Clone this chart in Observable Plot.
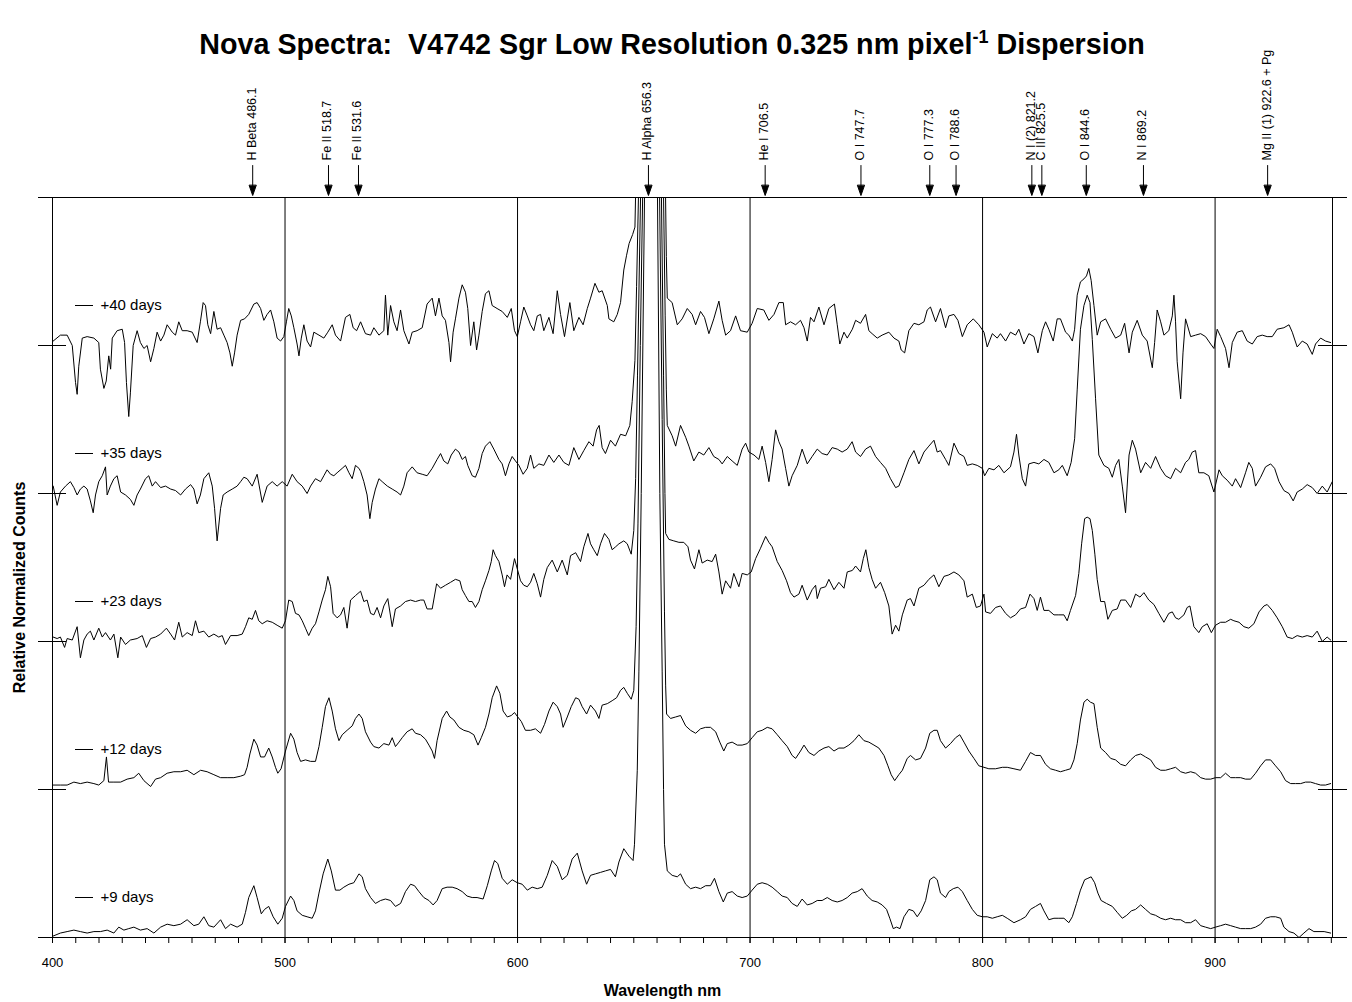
<!DOCTYPE html>
<html><head><meta charset="utf-8">
<script src="https://cdn.jsdelivr.net/npm/d3@7"></script>
<script src="https://cdn.jsdelivr.net/npm/@observablehq/plot@0.6"></script>
<style>
body{margin:0;background:#fff;font-family:Arial,"Liberation Sans",sans-serif}
#wrap{position:relative;width:1352px;height:1002px}
#title{position:absolute;top:28px;left:0;width:1344px;text-align:center;font-weight:bold;font-size:28.7px;color:#000;z-index:2;pointer-events:none;white-space:nowrap}
#title sup{font-size:18px;line-height:0}
#chart{position:absolute;top:0;left:0}
</style></head><body>
<div id="wrap"><div id="title">Nova Spectra:&nbsp; V4742 Sgr Low Resolution 0.325 nm pixel<sup>-1</sup> Dispersion</div><div id="chart"></div></div>
<script>
// Series labels and vertical offsets
const seriesNames = ["+9 days", "+12 days", "+23 days", "+35 days", "+40 days"];
const seriesOffsets = [0, 1, 2, 3, 4];

// [wavelength nm, relative counts above each spectrum's baseline]
const day40 = [[400.3,0.03],[403.4,0.07],[406.3,0.07],[408.5,0],[409.9,-0.25],[410.6,-0.33],[411.3,-0.14],[412.8,0.05],[414.9,0.06],[417.8,0.05],[419.9,0.02],[420.6,-0.16],[422.1,-0.29],[423.1,-0.24],[424.2,-0.07],[425.0,-0.16],[425.7,0.05],[427.8,0.10],[430.0,0.11],[431.0,0.02],[431.8,-0.25],[432.8,-0.48],[433.5,-0.32],[434.7,0],[436.4,0.10],[437.8,0.02],[439.3,-0.02],[440.7,0],[442.2,-0.11],[443.6,-0.02],[445.0,0.09],[446.5,0.03],[447.9,0.07],[449.3,0.14],[451.5,0.09],[452.9,0.07],[454.3,0.16],[455.8,0.10],[457.9,0.10],[460.1,0.09],[462.2,0.02],[463.6,0.16],[464.8,0.29],[465.8,0.27],[466.8,0.14],[468.0,0.08],[469.4,0.23],[470.8,0.11],[472.3,0.12],[473.7,0.07],[475.1,0.02],[476.3,-0.05],[477.3,-0.14],[478.3,-0.05],[479.4,0.07],[480.9,0.17],[482.6,0.18],[484.4,0.21],[486.6,0.28],[488.0,0.29],[489.5,0.25],[490.9,0.17],[492.3,0.21],[493.8,0.24],[495.2,0.16],[496.6,0.05],[498.1,0.03],[499.5,0.06],[500.6,0.16],[501.6,0.25],[502.7,0.20],[503.8,0.12],[505.2,0.01],[506.0,-0.07],[507.0,0.05],[508.1,0.14],[509.5,0.03],[511.0,-0.01],[512.4,0.09],[514.6,0.07],[516.7,0.05],[518.4,0.09],[520.3,0.14],[521.7,0.07],[523.9,0.03],[526.0,0.19],[527.9,0.21],[529.3,0.12],[530.8,0.10],[532.5,0.16],[534.6,0.08],[536.8,0.07],[538.2,0.12],[540.4,0.07],[542.5,0.10],[543.2,0.34],[544.2,0.07],[545.4,0.27],[546.8,0.16],[548.2,0.10],[549.7,0.24],[551.1,0.10],[553.3,0.01],[554.7,0.09],[556.8,0.10],[559.0,0.12],[561.1,0.28],[563.3,0.32],[564.7,0.20],[566.2,0.32],[567.6,0.20],[569.0,0.17],[570.5,0.02],[571.2,-0.11],[572.3,0.09],[573.3,0.18],[574.8,0.32],[576.2,0.41],[577.6,0.36],[578.6,0.25],[579.8,0],[581.2,0.16],[582.4,-0.03],[583.4,0.07],[584.8,0.23],[586.2,0.35],[587.7,0.37],[589.1,0.27],[591.2,0.25],[593.4,0.23],[595.6,0.19],[597.3,0.25],[598.7,0.10],[599.9,0.06],[601.3,0.16],[602.7,0.26],[604.2,0.20],[605.6,0.14],[607.0,0.10],[608.5,0.20],[609.9,0.21],[611.3,0.10],[613.5,0.19],[615.3,0.08],[617.1,0.37],[618.5,0.21],[620.2,0.06],[622.5,0.29],[624.2,0.10],[626.4,0.19],[628.2,0.14],[630.0,0.25],[631.4,0.32],[633.3,0.42],[635.0,0.36],[636.4,0.37],[638.6,0.27],[639.3,0.18],[641.4,0.16],[642.9,0.21],[644.3,0.29],[645.7,0.51],[646.9,0.61],[648.0,0.69],[649.5,0.75],[650.5,0.8],[651.0,1.2],[652.5,3],[656.5,5],[661,3],[663.5,1.2],[664.0,0.6],[664.4,0.32],[666.5,0.29],[668.7,0.14],[670.8,0.18],[673.0,0.25],[675.1,0.21],[676.6,0.14],[678.7,0.23],[680.4,0.19],[682.3,0.08],[684.4,0.18],[686.6,0.30],[688.0,0.17],[689.5,0.07],[691.6,0.10],[693.8,0.20],[695.9,0.10],[698.8,0.09],[700.9,0.15],[703.1,0.25],[705.9,0.24],[708.1,0.17],[710.3,0.21],[712.4,0.29],[714.3,0.29],[715.3,0.14],[717.4,0.16],[719.6,0.14],[721.7,0.17],[723.2,0.12],[724.6,0.03],[726.0,0.19],[727.5,0.16],[729.6,0.26],[731.8,0.14],[733.9,0.25],[736.3,0.28],[737.5,0.14],[738.6,0.01],[740.4,0.09],[741.8,0.05],[744.0,0.11],[745.4,0.17],[747.5,0.15],[749.7,0.21],[751.1,0.10],[752.5,0.08],[754.7,0.05],[756.8,0.07],[759.7,0.09],[761.9,0.05],[764.0,0.03],[765.0,-0.03],[766.5,-0.05],[768.3,0.10],[770.5,0.15],[772.6,0.14],[774.8,0.16],[776.2,0.24],[777.6,0.26],[779.8,0.16],[781.9,0.25],[784.1,0.12],[785.5,0.20],[787.7,0.21],[789.4,0.17],[791.3,0.06],[793.4,0.14],[796.0,0.18],[798.4,0.14],[800.6,0.09],[802.0,-0.01],[804.2,0.08],[806.3,0.05],[807.7,0.08],[809.9,0.03],[812.0,0.09],[814.2,0.07],[815.6,0.11],[817.8,0.01],[819.9,0.08],[822.1,0.06],[823.8,-0.05],[825.7,0.10],[827.1,0.16],[828.5,0.11],[830.4,0.03],[832.1,0.18],[833.5,0.18],[835.7,0.09],[837.1,0.07],[838.6,0.03],[839.6,0.11],[840.7,0.34],[842.1,0.43],[843.6,0.45],[844.7,0.47],[845.7,0.52],[846.7,0.44],[847.9,0.27],[849.3,0.07],[850.8,0.16],[852.9,0.18],[855.1,0.11],[857.2,0.05],[859.4,0.07],[861.1,0.15],[863.0,-0.05],[864.4,0.09],[866.5,0.17],[868.7,0.07],[870.8,0.03],[873.0,-0.15],[874.0,0.02],[875.1,0.24],[876.6,0.16],[878.0,0.07],[880.1,0.10],[881.6,0.20],[882.3,0.34],[883.0,0.16],[883.7,-0.11],[885.2,-0.36],[886.2,-0.05],[887.3,0.18],[889.5,0.06],[891.6,0.07],[893.8,0.08],[895.9,0.06],[898.1,0.01],[899.5,-0.02],[900.9,0.11],[902.4,0.06],[904.5,-0.02],[906.0,-0.15],[907.4,0.02],[909.5,0.09],[911.7,0.10],[913.8,0.03],[916.0,0.01],[918.1,0.06],[920.3,0.07],[922.4,0.06],[924.6,0.06],[926.7,0.11],[929.6,0.12],[931.8,0.14],[933.2,0.09],[935.3,-0.01],[937.5,0.03],[939.6,0.01],[941.8,-0.06],[943.2,0.01],[945.4,0.05],[947.5,0.03],[949.7,0.02]];

const day35 = [[400.3,0.05],[402.0,-0.08],[403.4,0.01],[405.6,0.05],[407.7,0.08],[409.2,0.04],[410.6,-0.01],[412.0,0.03],[413.5,0.05],[414.9,0.03],[416.3,-0.05],[417.5,-0.13],[418.5,-0.01],[419.9,0.08],[421.4,0.12],[422.8,0.18],[423.5,-0.01],[424.9,0.05],[426.4,0.10],[427.8,0.12],[429.3,0.01],[431.4,-0.01],[433.5,-0.04],[435.0,-0.08],[436.4,-0.01],[437.8,0.03],[440.0,0.10],[441.4,0.12],[442.9,0.05],[444.3,0.08],[446.5,0.04],[448.6,0.05],[450.8,0.03],[452.9,0.02],[455.1,-0.01],[457.2,0.03],[459.4,0.06],[460.8,0.03],[462.2,-0.07],[463.6,-0.01],[465.1,0.10],[467.2,0.14],[468.7,0.05],[469.7,-0.10],[470.8,-0.32],[472.3,-0.10],[473.4,-0.01],[475.1,0.01],[477.3,0.03],[479.4,0.05],[480.9,0.08],[482.3,0.11],[483.7,0.10],[485.9,0.05],[488.0,0.13],[490.2,-0.06],[492.3,0.05],[494.5,0.08],[496.6,0.05],[498.8,0.08],[500.9,0.05],[503.1,0.13],[505.2,0.08],[507.4,0.05],[509.5,0],[511.0,0.05],[513.1,0.10],[515.3,0.08],[516.7,0.12],[518.1,0.16],[519.6,0.13],[521.0,0.12],[522.4,0.14],[524.6,0.17],[526.0,0.19],[527.5,0.14],[528.9,0.10],[530.3,0.19],[531.8,0.17],[532.5,0.15],[533.9,0.08],[535.3,-0.01],[536.5,-0.17],[537.5,-0.06],[538.9,0.03],[540.4,0.10],[541.8,0.08],[544.0,0.05],[546.1,0.03],[548.2,0.01],[549.7,-0.01],[551.1,0.05],[552.5,0.14],[554.7,0.18],[556.8,0.14],[559.0,0.13],[561.1,0.12],[563.3,0.17],[565.4,0.23],[566.9,0.27],[568.3,0.22],[570.0,0.20],[571.5,0.26],[573.3,0.30],[574.8,0.28],[576.2,0.23],[577.6,0.25],[578.6,0.19],[580.5,0.12],[581.9,0.11],[583.4,0.17],[584.8,0.27],[586.2,0.32],[588.1,0.35],[589.8,0.30],[592.0,0.23],[593.4,0.20],[594.8,0.12],[596.3,0.20],[597.7,0.25],[599.1,0.22],[600.6,0.19],[602.4,0.13],[604.2,0.17],[605.6,0.26],[607.0,0.17],[609.2,0.20],[611.3,0.19],[613.5,0.26],[615.6,0.21],[617.8,0.26],[619.9,0.21],[622.1,0.19],[624.2,0.31],[626.4,0.23],[628.5,0.29],[630.7,0.35],[632.5,0.32],[634.0,0.43],[635.1,0.46],[636.4,0.31],[637.8,0.27],[640.0,0.36],[642.1,0.32],[644.3,0.40],[646.5,0.39],[648.3,0.46],[649.3,0.62],[650.5,0.9],[651.2,1.4],[652.0,2.0],[653,3.5],[656.5,6],[660.5,3.5],[662.8,2.0],[663.5,1.2],[664.0,0.7],[664.4,0.46],[666.5,0.39],[668.0,0.32],[670.1,0.46],[672.3,0.38],[673.7,0.32],[675.8,0.22],[678.0,0.28],[680.1,0.26],[682.3,0.31],[684.4,0.25],[686.6,0.23],[688.0,0.20],[690.2,0.25],[692.3,0.22],[694.5,0.19],[696.6,0.30],[698.1,0.34],[699.5,0.28],[701.7,0.26],[703.8,0.23],[705.2,0.32],[706.7,0.21],[708.1,0.08],[709.5,0.23],[711.0,0.43],[712.4,0.35],[713.8,0.30],[715.3,0.17],[716.7,0.05],[718.1,0.12],[720.3,0.19],[722.4,0.30],[724.6,0.20],[726.7,0.25],[728.9,0.30],[731.0,0.27],[733.2,0.26],[735.3,0.31],[737.5,0.30],[739.6,0.28],[741.8,0.30],[743.9,0.35],[745.4,0.28],[747.5,0.25],[749.7,0.30],[751.8,0.32],[754.0,0.25],[756.1,0.21],[758.3,0.17],[760.4,0.10],[762.6,0.04],[764.0,0.05],[766.2,0.14],[768.3,0.23],[770.5,0.29],[772.6,0.20],[774.8,0.28],[776.9,0.32],[779.1,0.36],[780.5,0.28],[781.9,0.29],[784.1,0.23],[785.5,0.19],[787.7,0.34],[789.8,0.27],[792.0,0.25],[793.4,0.19],[795.6,0.20],[797.7,0.19],[799.9,0.17],[800.9,0.12],[802.7,0.17],[804.9,0.16],[807.0,0.19],[809.2,0.14],[812.0,0.18],[813.5,0.28],[814.6,0.40],[815.6,0.26],[817.1,0.10],[818.5,0.05],[819.9,0.20],[822.1,0.21],[824.2,0.20],[826.4,0.23],[828.5,0.21],[830.7,0.14],[832.8,0.16],[834.3,0.19],[836.4,0.12],[838.1,0.21],[839.6,0.37],[840.7,0.70],[842.1,1.11],[843.6,1.27],[845.0,1.34],[846.2,1.29],[847.2,1.04],[848.6,0.64],[850.0,0.26],[852.2,0.19],[854.3,0.17],[855.8,0.11],[857.2,0.19],[858.6,0.23],[860.1,0.05],[861.5,-0.13],[863.0,0.26],[864.4,0.36],[865.8,0.30],[868.0,0.14],[870.1,0.21],[872.3,0.17],[874.4,0.25],[876.6,0.17],[878.7,0.12],[880.9,0.10],[883.0,0.17],[885.2,0.14],[887.3,0.21],[888.7,0.23],[890.2,0.28],[891.6,0.29],[893.0,0.14],[895.2,0.14],[897.3,0.12],[899.5,0.01],[901.7,0.16],[903.1,0.12],[905.2,0.09],[907.4,0.05],[908.8,0.10],[911.0,0.04],[913.1,0.14],[914.5,0.21],[916.0,0.17],[917.4,0.05],[919.6,0.11],[921.7,0.18],[923.9,0.20],[925.6,0.17],[927.5,0.08],[929.6,0.02],[931.8,0],[933.6,-0.05],[935.3,0.01],[937.5,0.03],[939.6,0.06],[941.8,0.04],[943.9,0],[946.1,0.05],[948.2,0.01],[950.4,0.08]];

const day23 = [[400.3,0.03],[402.0,0.02],[403.4,0.03],[405.2,-0.04],[406.3,0.02],[408.5,0.01],[410.6,0.10],[412.0,-0.11],[413.5,0.01],[414.9,0.05],[416.3,0.07],[417.8,0.01],[419.9,0.09],[421.4,0.03],[422.8,0.06],[424.9,0.01],[426.4,0.05],[428.1,-0.11],[429.3,0.03],[431.4,-0.02],[433.5,0.01],[436.4,0.02],[438.6,0.04],[440.4,-0.04],[442.2,0.02],[444.3,0.03],[446.5,0.05],[449.0,0.09],[450.8,0.05],[452.5,0.01],[454.3,0.13],[455.8,0.03],[457.9,0.06],[460.1,0.04],[461.5,0.14],[462.9,0.06],[465.1,0.07],[467.2,0.03],[469.4,0.05],[471.5,0.03],[473.0,0.04],[474.4,-0.02],[476.6,0.04],[479.4,0.04],[481.6,0.05],[483.0,0.10],[484.4,0.16],[485.9,0.15],[487.3,0.21],[488.7,0.14],[490.2,0.12],[492.3,0.14],[494.5,0.13],[496.6,0.11],[498.8,0.09],[500.2,0.14],[501.6,0.28],[503.1,0.27],[504.5,0.19],[506.0,0.18],[507.4,0.14],[508.8,0.09],[510.2,0.04],[511.7,0.09],[513.1,0.12],[514.6,0.20],[516.0,0.28],[517.4,0.35],[518.4,0.44],[519.6,0.37],[520.7,0.19],[522.4,0.16],[523.9,0.18],[525.3,0.23],[526.7,0.09],[528.2,0.28],[530.3,0.31],[532.5,0.34],[533.9,0.27],[535.3,0.28],[536.8,0.19],[538.2,0.18],[539.6,0.23],[541.1,0.16],[542.5,0.24],[544.2,0.29],[546.1,0.10],[547.5,0.22],[549.7,0.24],[551.8,0.27],[554.0,0.28],[556.1,0.27],[558.3,0.28],[559.7,0.28],[561.1,0.22],[563.3,0.22],[565.2,0.39],[566.9,0.36],[569.0,0.38],[571.2,0.40],[573.3,0.42],[575.2,0.41],[576.2,0.35],[577.6,0.31],[579.1,0.27],[580.5,0.27],[581.9,0.23],[583.4,0.27],[584.8,0.35],[586.2,0.41],[587.7,0.48],[588.7,0.54],[589.5,0.62],[590.5,0.58],[592.0,0.54],[593.4,0.45],[594.4,0.37],[595.5,0.45],[597.0,0.42],[598.7,0.56],[599.9,0.49],[601.3,0.41],[602.7,0.38],[604.2,0.37],[605.6,0.40],[607.0,0.46],[608.5,0.39],[609.9,0.30],[611.3,0.42],[612.8,0.50],[614.9,0.55],[617.1,0.47],[619.2,0.55],[621.4,0.45],[622.8,0.58],[625.0,0.60],[627.1,0.54],[628.5,0.64],[630.3,0.73],[631.4,0.66],[632.8,0.62],[634.3,0.58],[635.7,0.66],[637.4,0.73],[639.3,0.69],[640.7,0.62],[642.2,0.64],[643.6,0.66],[645.7,0.68],[647.2,0.66],[648.9,0.59],[650.0,0.75],[650.8,1.1],[651.6,1.8],[652.9,3],[654,4.5],[657,7],[660.5,4.5],[661.9,3],[662.8,1.8],[663.4,1.0],[663.7,0.73],[665.1,0.69],[667.2,0.68],[669.4,0.67],[671.5,0.67],[673.3,0.64],[674.4,0.55],[676.1,0.49],[678.0,0.62],[679.4,0.53],[681.6,0.55],[683.7,0.54],[685.2,0.59],[686.6,0.47],[688.0,0.32],[689.5,0.41],[691.6,0.36],[693.0,0.46],[695.2,0.37],[696.6,0.46],[698.8,0.45],[700.5,0.47],[702.4,0.56],[704.5,0.63],[706.7,0.71],[708.1,0.67],[709.5,0.64],[711.7,0.54],[713.8,0.48],[715.7,0.41],[717.4,0.33],[718.9,0.30],[721.0,0.32],[722.4,0.38],[724.6,0.28],[726.7,0.35],[728.2,0.38],[728.9,0.29],[730.3,0.36],[732.5,0.37],[733.9,0.42],[736.1,0.35],[738.2,0.40],[740.4,0.36],[741.8,0.47],[744.0,0.48],[745.4,0.51],[747.5,0.47],[748.7,0.56],[749.8,0.62],[751.1,0.50],[752.5,0.42],[754.0,0.36],[756.1,0.40],[757.9,0.33],[759.7,0.24],[761.1,0.05],[762.6,0.11],[764.0,0.07],[765.5,0.18],[767.6,0.28],[769.0,0.29],[770.5,0.24],[772.6,0.36],[774.8,0.38],[776.9,0.42],[779.1,0.45],[781.2,0.37],[783.4,0.44],[785.5,0.45],[787.7,0.47],[789.8,0.45],[792.0,0.41],[793.4,0.30],[795.6,0.32],[797.3,0.23],[799.1,0.24],[800.6,0.32],[801.3,0.20],[803.4,0.19],[805.6,0.23],[807.7,0.24],[809.9,0.19],[812.0,0.16],[814.2,0.18],[816.3,0.22],[818.5,0.23],[820.4,0.32],[822.1,0.29],[823.5,0.21],[824.9,0.30],[826.4,0.21],[828.5,0.21],[830.7,0.18],[832.8,0.18],[835.0,0.18],[836.4,0.14],[837.8,0.21],[840.0,0.31],[841.4,0.46],[842.6,0.66],[843.9,0.83],[845.0,0.84],[846.2,0.83],[847.2,0.75],[848.3,0.59],[849.3,0.42],[850.8,0.27],[852.5,0.27],[853.9,0.15],[855.8,0.21],[857.9,0.22],[859.4,0.28],[861.5,0.28],[863.7,0.23],[865.8,0.32],[867.7,0.30],[869.4,0.33],[871.5,0.28],[873.7,0.25],[875.8,0.19],[878.0,0.13],[880.1,0.19],[881.6,0.20],[883.0,0.16],[884.4,0.15],[886.6,0.18],[888.0,0.23],[889.2,0.24],[890.9,0.10],[893.0,0.06],[894.5,0.10],[896.6,0.12],[898.4,0.06],[900.2,0.11],[902.4,0.13],[904.5,0.13],[906.7,0.15],[908.1,0.14],[910.3,0.13],[912.4,0.10],[914.5,0.09],[916.7,0.12],[918.9,0.20],[921.0,0.24],[922.4,0.25],[924.6,0.21],[926.7,0.16],[928.9,0.10],[931.0,0.03],[933.2,0.02],[935.3,0.04],[937.5,0.03],[939.6,0.04],[941.8,0.03],[943.9,0.07],[946.1,0],[948.2,0.03],[949.7,0.01]];

const day12 = [[400.3,0.03],[403.4,0.03],[406.3,0.03],[409.2,0.05],[412.0,0.04],[414.9,0.05],[417.8,0.04],[419.9,0.03],[422.1,0.06],[423.2,0.22],[424.1,0.05],[426.4,0.05],[429.3,0.05],[432.1,0.07],[435.0,0.08],[437.1,0.11],[439.3,0.06],[442.2,0.02],[444.3,0.07],[446.5,0.08],[449.3,0.11],[452.2,0.12],[455.1,0.12],[457.9,0.13],[460.8,0.10],[463.7,0.13],[466.5,0.12],[469.4,0.10],[472.3,0.08],[475.1,0.08],[478.0,0.08],[480.9,0.09],[482.6,0.10],[483.7,0.15],[484.9,0.24],[486.6,0.34],[488.0,0.30],[489.5,0.22],[491.2,0.22],[493.0,0.28],[494.5,0.22],[495.9,0.15],[496.9,0.11],[498.3,0.14],[500.2,0.26],[502.4,0.38],[503.8,0.34],[505.2,0.25],[506.7,0.19],[508.8,0.20],[511.0,0.19],[513.1,0.19],[514.6,0.29],[516.0,0.42],[517.4,0.56],[518.9,0.62],[520.3,0.53],[521.7,0.41],[523.2,0.33],[524.6,0.37],[526.7,0.40],[528.9,0.43],[530.3,0.48],[531.8,0.51],[533.2,0.48],[534.6,0.39],[536.8,0.32],[538.2,0.29],[540.4,0.28],[542.5,0.31],[544.7,0.30],[546.1,0.35],[547.5,0.29],[549.0,0.32],[550.4,0.35],[552.5,0.39],[554.7,0.41],[556.1,0.38],[558.3,0.37],[560.4,0.34],[561.9,0.30],[563.3,0.26],[564.3,0.21],[565.4,0.33],[567.6,0.48],[569.5,0.53],[570.9,0.49],[572.6,0.47],[574.8,0.42],[576.9,0.40],[579.1,0.39],[581.2,0.37],[583.0,0.30],[584.4,0.35],[586.2,0.42],[587.7,0.51],[589.1,0.62],[591.0,0.70],[592.4,0.65],[593.8,0.53],[595.6,0.49],[597.3,0.50],[598.7,0.52],[600.1,0.49],[601.6,0.46],[603.4,0.40],[605.6,0.40],[607.7,0.41],[609.9,0.38],[611.6,0.44],[613.5,0.53],[615.3,0.59],[617.1,0.56],[618.5,0.51],[619.6,0.42],[621.4,0.49],[623.1,0.56],[625.0,0.62],[626.4,0.61],[627.8,0.56],[629.7,0.51],[631.4,0.57],[633.5,0.53],[635.0,0.48],[636.4,0.57],[638.6,0.58],[640.7,0.60],[642.6,0.62],[644.3,0.67],[645.7,0.69],[647.2,0.65],[648.9,0.61],[650.0,0.67],[651.0,1.1],[651.8,1.8],[652.8,3],[653.8,4],[655,6],[658,7],[660,6],[661.1,4],[662.2,2.5],[663.2,1.2],[663.7,0.7],[664.1,0.51],[665.8,0.48],[668.0,0.49],[670.1,0.50],[672.3,0.43],[674.4,0.40],[676.6,0.38],[678.7,0.41],[680.9,0.42],[683.0,0.42],[685.2,0.39],[687.0,0.32],[688.7,0.26],[690.2,0.31],[692.3,0.32],[694.5,0.30],[696.6,0.30],[698.8,0.31],[700.9,0.35],[703.1,0.39],[705.2,0.40],[707.4,0.42],[709.5,0.41],[711.7,0.37],[713.8,0.33],[716.0,0.29],[718.1,0.23],[719.6,0.21],[721.7,0.26],[723.2,0.30],[725.3,0.25],[727.5,0.23],[729.6,0.26],[731.8,0.28],[733.9,0.29],[736.1,0.26],[738.2,0.28],[740.4,0.28],[742.5,0.30],[744.7,0.33],[746.8,0.37],[749.0,0.33],[751.1,0.32],[753.3,0.30],[755.4,0.28],[757.6,0.23],[759.3,0.16],[760.7,0.10],[762.2,0.06],[764.0,0.10],[765.5,0.13],[767.6,0.21],[769.0,0.23],[771.2,0.20],[773.3,0.21],[775.5,0.28],[777.3,0.38],[779.1,0.40],[780.5,0.40],[781.9,0.33],[784.1,0.28],[786.2,0.31],[788.4,0.35],[790.2,0.37],[792.0,0.32],[794.1,0.26],[796.3,0.21],[798.4,0.16],[800.6,0.15],[802.7,0.14],[805.6,0.14],[808.5,0.15],[810.6,0.15],[813.5,0.14],[816.3,0.13],[818.5,0.19],[820.6,0.25],[822.8,0.23],[824.9,0.23],[827.1,0.17],[829.2,0.14],[831.4,0.13],[833.5,0.12],[835.7,0.13],[837.8,0.14],[839.3,0.20],[840.7,0.31],[842.1,0.47],[843.6,0.59],[845.0,0.61],[846.4,0.59],[847.9,0.58],[849.3,0.42],[850.8,0.28],[852.9,0.25],[855.1,0.21],[857.2,0.20],[859.4,0.17],[861.5,0.16],[863.7,0.20],[865.8,0.23],[868.0,0.24],[870.1,0.22],[872.3,0.20],[874.4,0.15],[876.6,0.13],[878.7,0.13],[880.9,0.14],[883.0,0.15],[885.2,0.12],[887.3,0.11],[889.5,0.12],[891.6,0.11],[893.8,0.08],[895.9,0.07],[898.1,0.07],[900.2,0.08],[902.4,0.08],[904.5,0.11],[906.7,0.08],[908.8,0.08],[911.0,0.08],[913.1,0.07],[915.3,0.07],[917.4,0.11],[919.6,0.16],[921.7,0.20],[923.9,0.20],[926.0,0.16],[928.2,0.12],[930.3,0.06],[932.5,0.04],[934.6,0.04],[936.8,0.04],[938.9,0.05],[941.1,0.05],[943.2,0.04],[945.4,0.03],[947.5,0.03],[949.7,0.04]];

const day9 = [[400.3,0.01],[403.4,0.03],[406.3,0.04],[409.2,0.05],[412.0,0.04],[414.9,0.03],[417.8,0.04],[420.6,0.04],[423.5,0.05],[426.4,0.03],[428.5,0.07],[430.7,0.05],[432.8,0.06],[435.0,0.07],[437.8,0.05],[440.7,0.06],[443.6,0.03],[446.5,0.07],[449.3,0.09],[452.2,0.08],[455.1,0.09],[457.9,0.12],[460.8,0.08],[462.9,0.09],[465.1,0.14],[467.2,0.08],[469.4,0.07],[472.3,0.12],[474.4,0.06],[476.6,0.09],[479.4,0.07],[481.6,0.09],[483.0,0.17],[484.4,0.27],[486.6,0.35],[488.0,0.27],[489.8,0.16],[491.2,0.19],[493.0,0.21],[494.9,0.14],[496.9,0.09],[498.8,0.13],[500.2,0.21],[502.4,0.28],[503.8,0.25],[505.2,0.18],[507.4,0.15],[509.5,0.14],[511.7,0.13],[513.1,0.18],[514.6,0.30],[516.4,0.43],[518.4,0.53],[519.9,0.45],[521.7,0.32],[523.6,0.32],[525.3,0.34],[527.5,0.36],[529.6,0.37],[531.8,0.43],[533.2,0.41],[534.6,0.33],[536.8,0.27],[538.9,0.23],[541.1,0.25],[543.2,0.26],[545.4,0.25],[547.5,0.21],[549.7,0.23],[551.8,0.31],[554.0,0.36],[555.7,0.35],[557.6,0.31],[559.7,0.27],[561.9,0.25],[563.7,0.22],[565.4,0.25],[567.6,0.33],[569.7,0.34],[571.9,0.34],[574.0,0.33],[576.2,0.31],[578.3,0.28],[580.5,0.27],[582.6,0.27],[585.2,0.26],[587.0,0.35],[588.7,0.45],[590.1,0.52],[591.5,0.50],[593.4,0.40],[595.6,0.36],[597.7,0.39],[599.9,0.37],[602.0,0.36],[604.2,0.32],[606.3,0.34],[608.5,0.33],[610.6,0.34],[612.8,0.42],[614.9,0.52],[617.1,0.48],[619.2,0.39],[621.4,0.42],[623.5,0.53],[625.7,0.57],[627.8,0.45],[629.7,0.36],[631.4,0.42],[633.5,0.43],[635.7,0.44],[637.8,0.45],[640.0,0.46],[642.1,0.41],[643.6,0.51],[645.7,0.60],[647.9,0.55],[649.7,0.52],[650.3,0.63],[651.5,1.13],[652.2,1.8],[653.2,3],[654.6,5],[656,7],[658.5,7.5],[660.2,5],[661.2,3],[662.2,1.8],[662.8,1.0],[663.2,0.63],[664.4,0.45],[666.5,0.42],[668.7,0.41],[670.1,0.43],[672.3,0.36],[674.4,0.33],[676.6,0.34],[678.7,0.33],[680.9,0.35],[683.0,0.35],[684.7,0.40],[686.6,0.31],[688.5,0.24],[690.2,0.30],[692.3,0.31],[694.5,0.28],[696.6,0.27],[698.8,0.28],[700.9,0.32],[703.1,0.36],[705.2,0.37],[707.4,0.36],[709.5,0.34],[711.7,0.31],[713.8,0.28],[716.0,0.27],[718.1,0.23],[720.3,0.21],[722.4,0.26],[724.6,0.22],[726.7,0.23],[728.9,0.25],[731.0,0.25],[733.2,0.27],[735.3,0.25],[737.5,0.24],[739.6,0.25],[741.8,0.27],[743.9,0.30],[746.1,0.31],[748.2,0.33],[750.4,0.28],[752.5,0.25],[754.7,0.24],[756.8,0.22],[758.7,0.19],[760.1,0.13],[761.6,0.06],[763.0,0.07],[764.5,0.06],[766.2,0.14],[768.3,0.19],[770.2,0.18],[771.9,0.14],[773.6,0.18],[775.5,0.25],[777.3,0.39],[779.1,0.41],[780.5,0.39],[781.9,0.30],[784.1,0.27],[785.5,0.31],[787.4,0.33],[789.4,0.34],[791.3,0.31],[793.4,0.25],[795.6,0.19],[797.7,0.15],[799.9,0.14],[802.0,0.14],[804.2,0.13],[806.3,0.14],[808.5,0.15],[810.6,0.13],[813.5,0.10],[816.3,0.12],[818.5,0.14],[820.6,0.19],[822.8,0.21],[824.9,0.23],[826.4,0.18],[828.5,0.12],[830.7,0.13],[832.8,0.13],[835.0,0.13],[837.1,0.10],[838.6,0.14],[840.4,0.23],[842.1,0.32],[843.9,0.39],[845.3,0.40],[846.7,0.41],[848.2,0.37],[849.6,0.30],[851.0,0.25],[853.3,0.23],[855.8,0.21],[857.9,0.17],[860.1,0.13],[862.0,0.15],[864.0,0.18],[865.8,0.19],[868.0,0.22],[870.1,0.19],[872.3,0.16],[874.4,0.15],[876.6,0.13],[878.7,0.12],[880.9,0.13],[883.0,0.12],[885.2,0.12],[887.3,0.10],[889.5,0.10],[891.6,0.12],[893.8,0.08],[895.9,0.07],[898.1,0.06],[900.2,0.07],[902.4,0.08],[904.5,0.09],[906.7,0.08],[908.8,0.07],[911.0,0.06],[913.1,0.06],[915.3,0.06],[917.4,0.07],[919.6,0.09],[921.7,0.13],[923.9,0.14],[926.0,0.14],[928.2,0.13],[929.6,0.07],[931.8,0.04],[933.9,0.03],[936.1,0],[938.2,0.03],[940.4,0.06],[942.5,0.04],[944.7,0.04],[946.9,0.04],[949.7,0.03]];

// Identified lines (annotation labels)
const lineWavelengths = [486.1, 518.7, 531.6, 656.3, 706.5, 747.7, 777.3, 788.6, 821.2, 825.5, 844.6, 869.2, 922.6];
const lineLabels = ["H Beta 486.1", "Fe II 518.7", "Fe II 531.6", "H Alpha 656.3", "He I 706.5", "O I 747.7", "O I 777.3", "O I 788.6", "N I (2) 821.2", "C III 825.5", "O I 844.6", "N I 869.2", "Mg II (1) 922.6 + Pg"];

// Axis ticks
const xMajorTicks = [400, 500, 600, 700, 800, 900];
const xMinorTicks = d3.range(400, 951, 10);
const yTicks = [0, 1, 2, 3, 4, 5];

const seriesData = [day9, day12, day23, day35, day40];
const rows = seriesData.flatMap((s, i) =>
  d3.sort(s, d => d[0]).map(([wl, v]) => ({series: seriesNames[i], wl, y: v + seriesOffsets[i]})));
const legendRows = seriesNames.map((name, i) => ({name, y: seriesOffsets[i]}));

const arrowShape = {
  draw(ctx, l) {
    ctx.moveTo(0, 0);
    ctx.lineTo(0, -l + 8);
    ctx.moveTo(-3.5, -l + 10);
    ctx.lineTo(0, -l);
    ctx.lineTo(3.5, -l + 10);
    ctx.closePath();
  }
};

const W = 1352, H = 1002, mL = 52, mR = 20, mT = 197, mB = 65;
const fw = W - mL - mR;

const chart = Plot.plot({
  width: W, height: H,
  marginLeft: mL, marginRight: mR, marginTop: mT, marginBottom: mB,
  style: {fontFamily: "Arial, 'Liberation Sans', sans-serif", color: "black", background: "white", overflow: "visible"},
  x: {domain: [400, 950.5]},
  y: {domain: [0, 5]},
  marks: [
    Plot.ruleX(xMajorTicks.slice(1), {stroke: "black", strokeWidth: 1}),
    Plot.frame({stroke: "black", strokeWidth: 1}),
    Plot.axisX({ticks: xMinorTicks, tickSize: 6, tickFormat: () => "", label: null}),
    Plot.axisX({ticks: xMajorTicks, tickSize: 6, tickPadding: 14, fontSize: 13, label: null}),
    Plot.axisY({anchor: "left", ticks: yTicks, tickSize: 14, tickFormat: () => "", label: null}),
    Plot.axisY({anchor: "right", ticks: yTicks, tickSize: 14, tickFormat: () => "", label: null}),
    Plot.tickY(yTicks, {y: d => d, insetRight: fw - 14, stroke: "black"}),
    Plot.tickY(yTicks, {y: d => d, insetLeft: fw - 14, stroke: "black"}),
    Plot.line(rows, {x: "wl", y: "y", z: "series", stroke: "black", strokeWidth: 1, clip: true}),
    Plot.ruleY(legendRows, {y: "y", dy: -40, insetLeft: 23, insetRight: fw - 41, stroke: "black"}),
    Plot.text(legendRows, {y: "y", text: "name", frameAnchor: "left", dx: 48, dy: -40, textAnchor: "start", lineAnchor: "middle", fontSize: 15, fill: "black"}),
    Plot.vector(lineWavelengths, {x: d => d, frameAnchor: "top", length: 30, rotate: 180, anchor: "end", shape: arrowShape, stroke: "black", fill: "black", strokeWidth: 1, dy: -2}),
    Plot.text(lineWavelengths, {x: d => d, text: (d, i) => lineLabels[i], frameAnchor: "top", rotate: -90, textAnchor: "start", lineAnchor: "middle", dx: -1, dy: -37, fontSize: 12.5, fill: "black", style: "letter-spacing:0.4px"}),
    Plot.text(["Wavelength nm"], {frameAnchor: "bottom", textAnchor: "middle", lineAnchor: "bottom", dx: -30, dy: 58, fontSize: 16, fontWeight: "bold", fill: "black"}),
    Plot.text(["Relative Normalized Counts"], {frameAnchor: "left", rotate: -90, textAnchor: "middle", lineAnchor: "middle", dx: -33, dy: 20, fontSize: 16, fontWeight: "bold", fill: "black"})
  ]
});
document.getElementById("chart").appendChild(chart);
</script>
</body></html>
